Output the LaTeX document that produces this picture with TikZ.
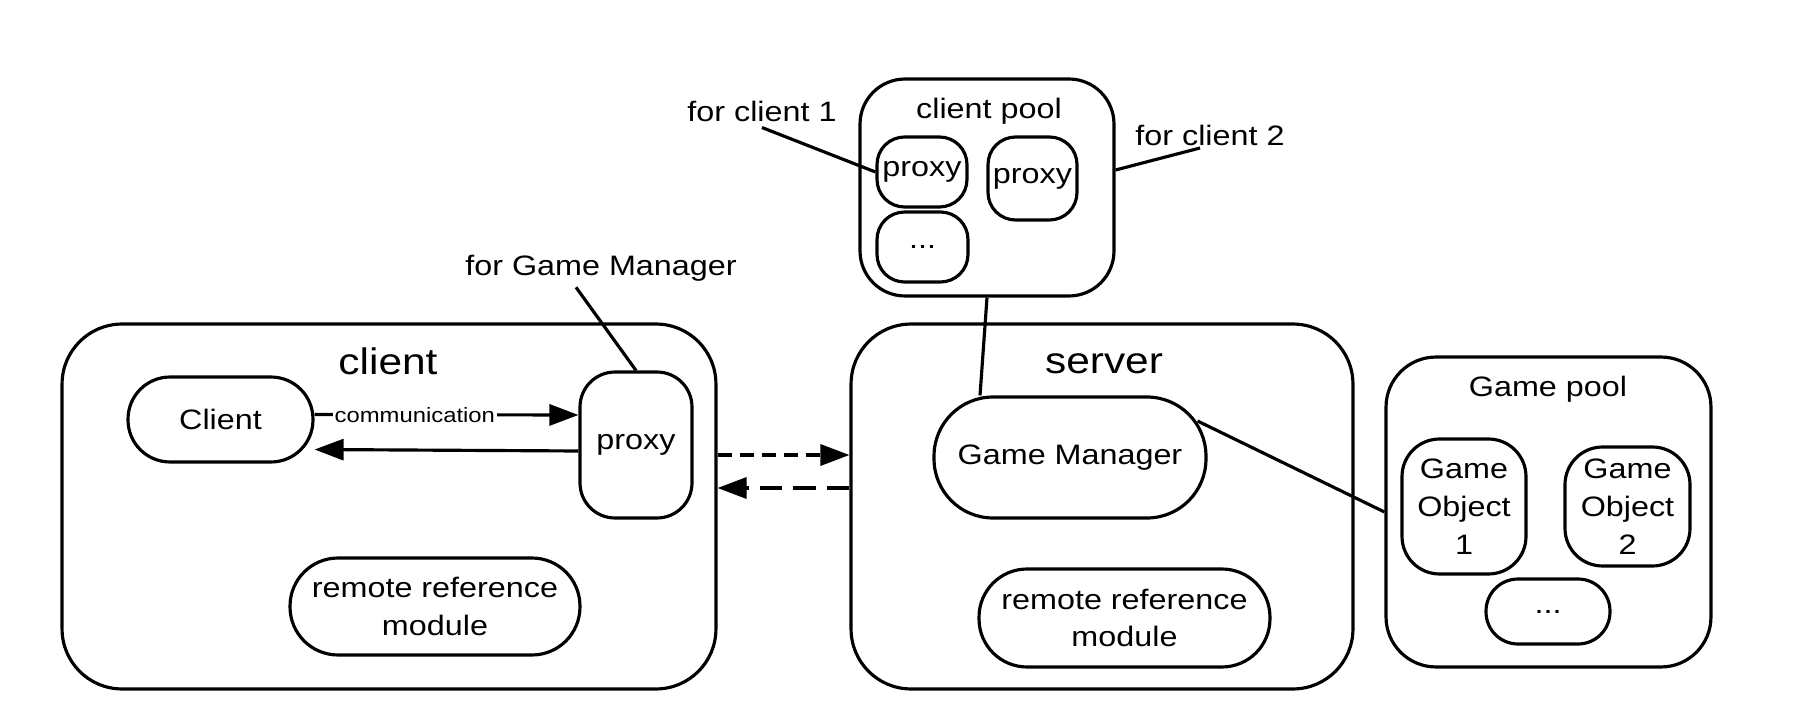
\documentclass[tikz,border=0pt]{standalone}
\usepackage{fontspec}
\setmainfont[FakeStretch=1.15]{Liberation Sans}
\usetikzlibrary{arrows.meta}
\tikzset{
	every node/.style={font=\fontsize{16}{21.5}\selectfont},
	box/.style={draw, line width=1.8pt},
	blob/.style={draw, line width=1.8pt, align=center, inner sep=0pt},
	title/.style={font=\fontsize{21}{25}\selectfont},
	arr/.style={-{Triangle[length=0.58cm,width=0.42cm]}, line width=1.8pt},
	link/.style={line width=1.8pt},
}
\begin{document}
\begin{tikzpicture}[x=0.02cm,y=-0.02cm]
	\useasboundingbox (0,0) rectangle (1810,726);

	\node[box, rounded corners=1.2cm, minimum width=13.08cm, minimum height=7.3cm] (cbox) at (389,506.5) {};
	\node[title] (ctitle) at (388,361) {client};
	\node[blob, rounded corners=0.84cm, minimum width=3.7cm, minimum height=1.7cm] (cl) at (220.5,419.5) {Client};
	\node[blob, rounded corners=0.7cm, minimum width=2.24cm, minimum height=2.92cm] (px) at (636,445) {proxy};
	\node[blob, rounded corners=0.96cm, minimum width=5.8cm, minimum height=1.94cm] (rc) at (435,606.5) {remote reference\\module};

	\node[box, rounded corners=1.2cm, minimum width=10.04cm, minimum height=7.3cm] (srv) at (1102,506.5) {};
	\node[title] (stitle) at (1104,364) {server};
	\node[blob, rounded corners=1.18cm, minimum width=5.44cm, minimum height=2.42cm] (gm) at (1070,457.5) {Game Manager};
	\node[blob, rounded corners=0.96cm, minimum width=5.82cm, minimum height=1.96cm] (rs) at (1124.5,618) {remote reference\\module};

	\node[box, rounded corners=0.9cm, minimum width=5.08cm, minimum height=4.34cm] (cpool) at (987,187.5) {};
	\node (cptitle) at (989,111) {client pool};
	\node[blob, rounded corners=0.55cm, minimum width=1.8cm, minimum height=1.4cm] (p1) at (922,172) {proxy};
	\node[blob, rounded corners=0.55cm, minimum width=1.78cm, minimum height=1.66cm] (p2) at (1032.5,178.5) {proxy};
	\node[blob, rounded corners=0.55cm, minimum width=1.82cm, minimum height=1.4cm] (d1) at (922.5,247) {...};

	\node[box, rounded corners=1.0cm, minimum width=6.5cm, minimum height=6.2cm] (gpool) at (1548.5,512) {};
	\node (gptitle) at (1548,389) {Game pool};
	\node[blob, rounded corners=0.75cm, minimum width=2.48cm, minimum height=2.7cm] (go1) at (1464,506.5) {Game\\Object\\1};
	\node[blob, rounded corners=0.75cm, minimum width=2.5cm, minimum height=2.38cm] (go2) at (1627.5,506.5) {Game\\Object\\2};
	\node[blob, rounded corners=0.64cm, minimum width=2.48cm, minimum height=1.3cm] (d2) at (1548,611.5) {...};

	\node (l1) at (762,111) {for client 1};
	\node (l2) at (1210,135) {for client 2};
	\node (lgm) at (601,268) {for Game Manager};

	\path [link] (l1.south) edge (p1.west);
	\path [link] ([yshift=0.35cm]cpool.east) edge ([xshift=-0.2cm,yshift=-0.26cm]l2.center);
	\path [link] ([xshift=-0.5cm]lgm.south) edge (px.north);
	\path [link] (cpool.south) edge ([xshift=-1.8cm]gm.north);
	\path [link] ([xshift=-0.2cm,yshift=0.73cm]gm.east) edge (gpool.west);

	\path [arr] ([yshift=0.1cm]cl.east) edge node[pos=0.38, fill=white, inner sep=1pt, font=\fontsize{11.8}{14}\selectfont] {communication} ([yshift=0.6cm]px.west);
	\path [arr] ([yshift=-0.12cm]px.west) edge ([yshift=-0.6cm]cl.east);
	\path [arr, dash pattern=on 0.28cm off 0.16cm] ([yshift=1.03cm]cbox.east) edge ([yshift=1.03cm]srv.west);
	\path [arr, dash pattern=on 0.45cm off 0.22cm] ([yshift=0.37cm]srv.west) edge ([yshift=0.37cm]cbox.east);
\end{tikzpicture}
\end{document}
